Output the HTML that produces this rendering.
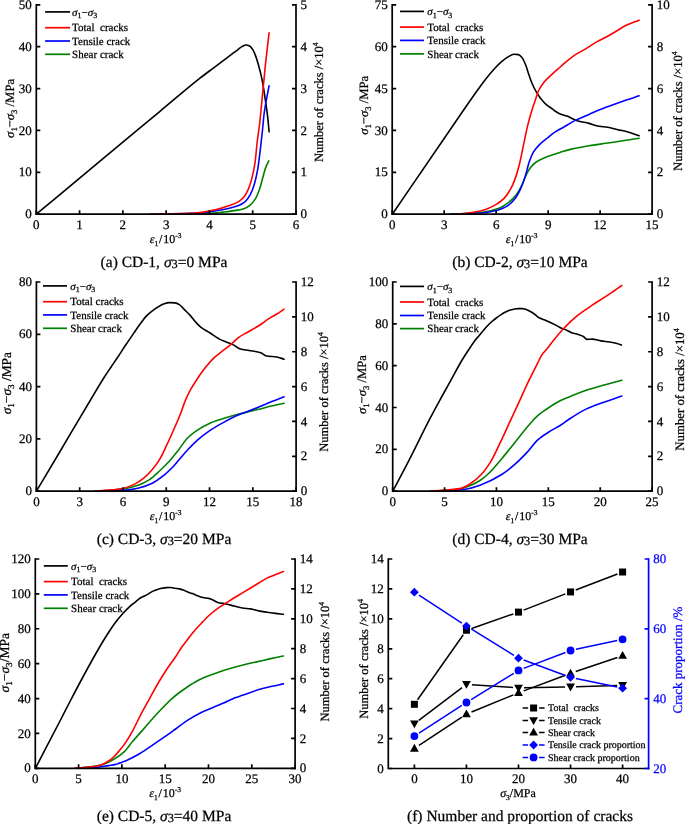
<!DOCTYPE html>
<html><head><meta charset="utf-8"><style>
html,body{margin:0;padding:0;background:#fff;}
svg{display:block;will-change:transform;}
svg{font-family:"Liberation Serif", serif;font-size:13px;}
text{stroke:#000;stroke-width:0.25px;text-rendering:geometricPrecision;}
text[fill="#0000ff"]{stroke:#0000ff;}
</style></head><body>
<svg width="685" height="824" viewBox="0 0 685 824">
<text x="31.8" y="218.3" text-anchor="end">0</text>
<text x="31.8" y="176.42" text-anchor="end">10</text>
<text x="31.8" y="134.54" text-anchor="end">20</text>
<text x="31.8" y="92.66" text-anchor="end">30</text>
<text x="31.8" y="50.78" text-anchor="end">40</text>
<text x="31.8" y="8.9" text-anchor="end">50</text>
<text x="36.3" y="228.9" text-anchor="middle">0</text>
<text x="79.58" y="228.9" text-anchor="middle">1</text>
<text x="122.87" y="228.9" text-anchor="middle">2</text>
<text x="166.15" y="228.9" text-anchor="middle">3</text>
<text x="209.43" y="228.9" text-anchor="middle">4</text>
<text x="252.72" y="228.9" text-anchor="middle">5</text>
<text x="296" y="228.9" text-anchor="middle">6</text>
<text x="300.6" y="218.3" fill="#000">0</text>
<text x="300.6" y="176.42" fill="#000">1</text>
<text x="300.6" y="134.54" fill="#000">2</text>
<text x="300.6" y="92.66" fill="#000">3</text>
<text x="300.6" y="50.78" fill="#000">4</text>
<text x="300.6" y="8.9" fill="#000">5</text>
<path d="M36.3 214.2C57.53 196.5 78.77 178.76 100 161.1C120 144.46 140 127.9 160 111.3C173.33 100.23 186.67 88.52 200 78.1C204.67 74.45 209.33 71.11 214 67.6C218.63 64.11 223.27 60.59 227.9 57.1C230.7 54.99 233.5 52.9 236.3 50.8C238.17 49.4 240.03 47.53 241.9 46.6C243.3 45.9 244.7 45 246.1 45C247.27 45 248.43 45.41 249.6 45.9C250.77 46.39 251.93 48.23 253.1 50.1C254 51.55 254.9 53.96 255.8 56.4C256.73 58.93 257.67 62.15 258.6 65.5C259.53 68.85 260.47 72.42 261.4 76.7C262.1 79.91 262.8 83.67 263.5 87.8C264.2 91.93 264.9 96.93 265.6 101.8C266.3 106.67 267 111 267.7 117.1C268.17 121.16 268.63 126.9 269.1 131.8" fill="none" stroke="#000000" stroke-width="1.6" stroke-linejoin="round" stroke-linecap="round"/>
<path d="M170 214.2C183.23 213.93 196.47 213.9 209.7 213.4C214.07 213.24 218.43 212.59 222.8 212.1C227.2 211.61 231.6 211.15 236 210.4C239.07 209.88 242.13 209.31 245.2 208.2C246.93 207.57 248.67 206.36 250.4 204.9C252.17 203.42 253.93 201.23 255.7 198.3C257 196.15 258.3 192.82 259.6 189.1C260.7 185.96 261.8 181.21 262.9 177.3C263.77 174.22 264.63 170.46 265.5 168.1C266.6 165.1 267.7 163.3 268.8 160.9" fill="none" stroke="#008000" stroke-width="1.6" stroke-linejoin="round" stroke-linecap="round"/>
<path d="M150 214.2C163.33 213.93 176.67 213.8 190 213.4C194.37 213.27 198.73 213.11 203.1 212.8C207.5 212.49 211.9 211.56 216.3 210.8C220.67 210.05 225.03 209.25 229.4 208.2C232.47 207.47 235.53 206.73 238.6 205.5C240.8 204.62 243 203.45 245.2 201.6C246.93 200.14 248.67 197.59 250.4 194.4C251.73 191.95 253.07 188.32 254.4 183.9C255.5 180.26 256.6 175.58 257.7 169.4C258.57 164.53 259.43 156.83 260.3 149.7C261.03 143.67 261.77 136.95 262.5 130C263.07 124.63 263.63 117.25 264.2 113C265.83 100.75 267.47 94.8 269.1 85.7" fill="none" stroke="#0000ff" stroke-width="1.6" stroke-linejoin="round" stroke-linecap="round"/>
<path d="M150 214.2C163.33 213.93 176.67 213.9 190 213.4C194.37 213.24 198.73 212.68 203.1 212.1C207.5 211.52 211.9 210.55 216.3 209.5C220.67 208.45 225.03 207.06 229.4 205.5C232.47 204.4 235.53 203.4 238.6 201.6C240.37 200.56 242.13 199.06 243.9 197C245.2 195.48 246.5 193.19 247.8 190.4C249.13 187.54 250.47 183.57 251.8 178.6C252.87 174.62 253.93 169.86 255 162.8C255.73 157.95 256.47 148.14 257.2 142C258 135.3 258.8 130.9 259.6 124C260.2 118.82 260.8 112.06 261.4 106C262.8 91.86 264.2 76.1 265.6 63C266.77 52.08 267.93 42.8 269.1 32.7" fill="none" stroke="#ff0000" stroke-width="1.6" stroke-linejoin="round" stroke-linecap="round"/>
<path d="M45.1 11.9h25" stroke="#000000" stroke-width="1.7"/>
<path d="M45.1 27.7h25" stroke="#ff0000" stroke-width="1.7"/>
<path d="M45.1 41h25" stroke="#0000ff" stroke-width="1.7"/>
<path d="M45.1 54.3h25" stroke="#008000" stroke-width="1.7"/>
<text x="72.1" y="15.5" font-size="11"><tspan font-style="italic">σ</tspan><tspan font-size="7.92" dy="2.5">1</tspan><tspan dy="-2.5">−</tspan><tspan font-style="italic">σ</tspan><tspan font-size="7.92" dy="2.5">3</tspan></text>
<text x="72.1" y="31.3" font-size="11">Total&#160; cracks</text>
<text x="72.1" y="44.6" font-size="11">Tensile crack</text>
<text x="72.1" y="57.9" font-size="11">Shear crack</text>
<text transform="translate(13.8 108.4) rotate(-90)" text-anchor="middle" font-size="12.7"><tspan font-style="italic">σ</tspan><tspan font-size="8.636000000000001" dy="3">1</tspan><tspan dy="-3">−</tspan><tspan font-style="italic">σ</tspan><tspan font-size="8.636000000000001" dy="3">3</tspan><tspan dy="-3"> /MPa</tspan></text>
<text transform="translate(322.8 102.2) rotate(-90)" text-anchor="middle" font-size="12.5" fill="#000">Number of cracks /×10<tspan font-size="7.75" dy="-5">4</tspan></text>
<text x="165.6" y="243" text-anchor="middle" font-size="12"><tspan font-style="italic">ε</tspan><tspan font-size="7.4399999999999995" dy="2.5">1</tspan><tspan dy="-2.5" dx="0.8">/</tspan><tspan dx="0.8">10</tspan><tspan font-size="7.4399999999999995" dy="-5">-3</tspan></text>
<text x="164" y="267" text-anchor="middle" font-size="15.5">(a) CD-1, <tspan font-style="italic">σ</tspan><tspan font-size="12.4" dy="1">3</tspan><tspan dy="-1">=0 MPa</tspan></text>
<text x="387.7" y="218.3" text-anchor="end">0</text>
<text x="387.7" y="176.42" text-anchor="end">15</text>
<text x="387.7" y="134.54" text-anchor="end">30</text>
<text x="387.7" y="92.66" text-anchor="end">45</text>
<text x="387.7" y="50.78" text-anchor="end">60</text>
<text x="387.7" y="8.9" text-anchor="end">75</text>
<text x="392.2" y="228.9" text-anchor="middle">0</text>
<text x="444.18" y="228.9" text-anchor="middle">3</text>
<text x="496.16" y="228.9" text-anchor="middle">6</text>
<text x="548.14" y="228.9" text-anchor="middle">9</text>
<text x="600.12" y="228.9" text-anchor="middle">12</text>
<text x="652.1" y="228.9" text-anchor="middle">15</text>
<text x="656.7" y="218.3" fill="#000">0</text>
<text x="656.7" y="176.42" fill="#000">2</text>
<text x="656.7" y="134.54" fill="#000">4</text>
<text x="656.7" y="92.66" fill="#000">6</text>
<text x="656.7" y="50.78" fill="#000">8</text>
<text x="656.7" y="8.9" fill="#000">10</text>
<path d="M392.3 214.2C409.87 188.53 427.43 162.69 445 137.2C456.67 120.27 468.33 102.69 480 86.7C482.33 83.5 484.67 80.31 487 77.4C489.33 74.49 491.67 71.72 494 69.2C496.33 66.68 498.67 64.21 501 62.2C503.33 60.19 505.67 58.22 508 56.9C509.97 55.79 511.93 54.2 513.9 54.2C515.43 54.2 516.97 54.35 518.5 54.6C519.67 54.79 520.83 56.13 522 57.5C523.17 58.87 524.33 61.7 525.5 64.5C526.67 67.3 527.83 71.67 529 75C530 77.86 531 80.84 532 83.2C533.33 86.35 534.67 89.09 536 91.4C537.57 94.11 539.13 96.42 540.7 98.4C542.67 100.88 544.63 103.12 546.6 104.8C548.53 106.45 550.47 107.43 552.4 108.9C553.27 109.56 554.13 110.41 555 111C556.7 112.16 558.4 113.19 560.1 113.9C562.37 114.85 564.63 115.26 566.9 116.1C570.3 117.37 573.7 119.66 577.1 120.7C581.07 121.91 585.03 122.39 589 123.4C592.37 124.26 595.73 125.79 599.1 126.3C601.93 126.73 604.77 126.79 607.6 127.2C611 127.7 614.4 128.92 617.8 129.7C621.2 130.48 624.6 131 628 131.9C631.7 132.88 635.4 134.43 639.1 135.7" fill="none" stroke="#000000" stroke-width="1.6" stroke-linejoin="round" stroke-linecap="round"/>
<path d="M450 214.2C456.67 213.93 463.33 213.79 470 213.4C474.7 213.13 479.4 212.67 484.1 212C488.8 211.33 493.5 210.18 498.2 208.5C501.47 207.34 504.73 205.21 508 202.8C510.83 200.71 513.67 198.06 516.5 194.4C518.37 191.99 520.23 188.3 522.1 184.5C523.5 181.65 524.9 177.3 526.3 174.6C527.73 171.84 529.17 169.39 530.6 167.6C532.47 165.26 534.33 163.29 536.2 162C539 160.06 541.8 158.88 544.6 157.7C547.9 156.31 551.2 155.32 554.5 154.2C556.33 153.58 558.17 152.97 560 152.4C563.43 151.34 566.87 150.21 570.3 149.4C576.53 147.93 582.77 146.84 589 145.8C594.63 144.86 600.27 144.13 605.9 143.3C611.57 142.46 617.23 141.67 622.9 140.8C628.3 139.97 633.7 139.07 639.1 138.2" fill="none" stroke="#008000" stroke-width="1.6" stroke-linejoin="round" stroke-linecap="round"/>
<path d="M450 214.2C456.67 213.97 463.33 213.79 470 213.5C474.7 213.29 479.4 213.11 484.1 212.7C488.8 212.29 493.5 211.21 498.2 209.9C501.47 208.99 504.73 207.63 508 205.6C510.37 204.13 512.73 201.63 515.1 198.6C516.97 196.21 518.83 192.71 520.7 188.7C522.1 185.69 523.5 181.79 524.9 177.5C526.33 173.11 527.77 166.08 529.2 162C530.6 158.01 532 154.42 533.4 152.1C535.27 149.01 537.13 147 539 145.1C541.83 142.22 544.67 140.31 547.5 138C549.83 136.09 552.17 133.98 554.5 132.4C557.5 130.37 560.5 128.92 563.5 127.2C567.47 124.92 571.43 122.38 575.4 120.4C579.93 118.14 584.47 116.38 589 114.4C592.93 112.68 596.87 110.88 600.8 109.3C605.33 107.48 609.87 105.85 614.4 104.2C618.37 102.76 622.33 101.35 626.3 100C630.57 98.55 634.83 97.2 639.1 95.8" fill="none" stroke="#0000ff" stroke-width="1.6" stroke-linejoin="round" stroke-linecap="round"/>
<path d="M457 214.2C461.33 213.7 465.67 213.33 470 212.7C474.7 212.02 479.4 211.21 484.1 209.9C487.87 208.85 491.63 207.02 495.4 204.9C498.2 203.32 501 201.37 503.8 198.6C506.13 196.29 508.47 192.85 510.8 188.7C512.23 186.15 513.67 182.79 515.1 178.9C516.5 175.1 517.9 170.28 519.3 164.8C520.7 159.32 522.1 151.67 523.5 145.1C524.9 138.53 526.3 131.11 527.7 125.4C529.13 119.55 530.57 114.55 532 109.9C533.17 106.11 534.33 102.94 535.5 99.5C536.47 96.65 537.43 93.03 538.4 91C540.33 86.94 542.27 84.36 544.2 82C546.93 78.66 549.67 76.44 552.4 73.9C554.4 72.04 556.4 70.37 558.4 68.6C560.67 66.6 562.93 64.51 565.2 62.6C568.03 60.22 570.87 57.71 573.7 55.8C577.1 53.51 580.5 51.94 583.9 49.9C588.43 47.18 592.97 43.9 597.5 41.4C600.3 39.86 603.1 38.71 605.9 37.2C609.3 35.37 612.7 33.18 616.1 31.2C619.5 29.22 622.9 26.92 626.3 25.3C630.57 23.27 634.83 21.9 639.1 20.2" fill="none" stroke="#ff0000" stroke-width="1.6" stroke-linejoin="round" stroke-linecap="round"/>
<path d="M400 11.4h24" stroke="#000000" stroke-width="1.7"/>
<path d="M400 27.1h24" stroke="#ff0000" stroke-width="1.7"/>
<path d="M400 40.4h24" stroke="#0000ff" stroke-width="1.7"/>
<path d="M400 53.9h24" stroke="#008000" stroke-width="1.7"/>
<text x="427.3" y="15" font-size="11"><tspan font-style="italic">σ</tspan><tspan font-size="7.92" dy="2.5">1</tspan><tspan dy="-2.5">−</tspan><tspan font-style="italic">σ</tspan><tspan font-size="7.92" dy="2.5">3</tspan></text>
<text x="427.3" y="30.7" font-size="11">Total&#160; cracks</text>
<text x="427.3" y="44" font-size="11">Tensile crack</text>
<text x="427.3" y="57.5" font-size="11">Shear crack</text>
<text transform="translate(368.2 105.3) rotate(-90)" text-anchor="middle" font-size="12.7"><tspan font-style="italic">σ</tspan><tspan font-size="8.636000000000001" dy="3">1</tspan><tspan dy="-3">−</tspan><tspan font-style="italic">σ</tspan><tspan font-size="8.636000000000001" dy="3">3</tspan><tspan dy="-3"> /MPa</tspan></text>
<text transform="translate(681.6 111.1) rotate(-90)" text-anchor="middle" font-size="12.5" fill="#000">Number of cracks /×10<tspan font-size="7.75" dy="-5">4</tspan></text>
<text x="521.6" y="243" text-anchor="middle" font-size="12"><tspan font-style="italic">ε</tspan><tspan font-size="7.4399999999999995" dy="2.5">1</tspan><tspan dy="-2.5" dx="0.8">/</tspan><tspan dx="0.8">10</tspan><tspan font-size="7.4399999999999995" dy="-5">-3</tspan></text>
<text x="520" y="267" text-anchor="middle" font-size="15.5">(b) CD-2, <tspan font-style="italic">σ</tspan><tspan font-size="12.4" dy="1">3</tspan><tspan dy="-1">=10 MPa</tspan></text>
<text x="31.9" y="495.3" text-anchor="end">0</text>
<text x="31.9" y="443" text-anchor="end">20</text>
<text x="31.9" y="390.7" text-anchor="end">40</text>
<text x="31.9" y="338.4" text-anchor="end">60</text>
<text x="31.9" y="286.1" text-anchor="end">80</text>
<text x="36.4" y="505.9" text-anchor="middle">0</text>
<text x="79.68" y="505.9" text-anchor="middle">3</text>
<text x="122.97" y="505.9" text-anchor="middle">6</text>
<text x="166.25" y="505.9" text-anchor="middle">9</text>
<text x="209.53" y="505.9" text-anchor="middle">12</text>
<text x="252.82" y="505.9" text-anchor="middle">15</text>
<text x="296.1" y="505.9" text-anchor="middle">18</text>
<text x="300.7" y="495.3" fill="#000">0</text>
<text x="300.7" y="460.43" fill="#000">2</text>
<text x="300.7" y="425.57" fill="#000">4</text>
<text x="300.7" y="390.7" fill="#000">6</text>
<text x="300.7" y="355.83" fill="#000">8</text>
<text x="300.7" y="320.97" fill="#000">10</text>
<text x="300.7" y="286.1" fill="#000">12</text>
<path d="M36.4 491.2C44.27 477.97 52.13 464.76 60 451.5C70.17 434.37 80.33 416.97 90.5 400C95.23 392.1 99.97 383.9 104.7 376.5C106.77 373.27 108.83 370.27 110.9 367.2C113.33 363.59 115.77 360.15 118.2 356.5C120.63 352.85 123.07 348.95 125.5 345.3C127.93 341.65 130.37 338.15 132.8 334.6C135.23 331.05 137.67 327.33 140.1 324C142 321.4 143.9 318.6 145.8 316.6C147.77 314.53 149.73 312.94 151.7 311.4C153.63 309.88 155.57 308.49 157.5 307.3C159.47 306.09 161.43 304.79 163.4 304.1C165.33 303.42 167.27 302.6 169.2 302.6C171.13 302.6 173.07 302.72 175 302.9C176.57 303.05 178.13 303.96 179.7 304.9C181.27 305.84 182.83 308.03 184.4 309.6C186.33 311.53 188.27 313.29 190.2 315.4C192.17 317.55 194.13 320.36 196.1 322.5C197.63 324.17 199.17 325.89 200.7 327.1C203.83 329.58 206.97 331 210.1 333C213.4 335.1 216.7 337.79 220 339.4C221.9 340.32 223.8 340.94 225.7 341.7C228.13 342.67 230.57 343.43 233 344.6C235.43 345.77 237.87 348.34 240.3 349C243.2 349.79 246.1 349.98 249 350.5C252.9 351.2 256.8 351.53 260.7 352.7C262.63 353.28 264.57 355.66 266.5 356C269.93 356.61 273.37 356.48 276.8 357C279.2 357.36 281.6 358.47 284 359.2" fill="none" stroke="#000000" stroke-width="1.6" stroke-linejoin="round" stroke-linecap="round"/>
<path d="M95 491.2C99.77 490.93 104.53 490.75 109.3 490.4C114.1 490.05 118.9 489.61 123.7 488.9C128.47 488.2 133.23 486.91 138 485.3C141.83 484 145.67 482.03 149.5 479.6C152.83 477.49 156.17 474.08 159.5 471C162.83 467.92 166.17 464.67 169.5 461C172.37 457.84 175.23 454.12 178.1 450.5C181.4 446.33 184.7 440.74 188 437.5C191.13 434.42 194.27 432.16 197.4 430.1C201.4 427.47 205.4 425.12 209.4 423.4C213.83 421.5 218.27 420.21 222.7 418.8C228.07 417.1 233.43 415.55 238.8 414.1C242.33 413.14 245.87 412.25 249.4 411.4C252.93 410.55 256.47 409.87 260 409C263.33 408.18 266.67 407.1 270 406.3C274.67 405.18 279.33 404.3 284 403.3" fill="none" stroke="#008000" stroke-width="1.6" stroke-linejoin="round" stroke-linecap="round"/>
<path d="M110 491.2C114.57 490.93 119.13 490.79 123.7 490.4C128.47 490 133.23 489.22 138 488.2C142.77 487.18 147.53 485.44 152.3 483.2C156.13 481.4 159.97 478.34 163.8 475.3C167.13 472.66 170.47 469.51 173.8 466C176.2 463.47 178.6 460.19 181 457.4C183.33 454.69 185.67 451.98 188 449.5C191.13 446.17 194.27 442.85 197.4 440.1C201.4 436.59 205.4 433.5 209.4 430.8C214.3 427.5 219.2 424.75 224.1 422.1C229 419.45 233.9 416.89 238.8 414.8C242.33 413.3 245.87 412.18 249.4 410.8C252.93 409.42 256.47 407.96 260 406.5C263.33 405.12 266.67 403.66 270 402.3C274.67 400.4 279.33 398.63 284 396.8" fill="none" stroke="#0000ff" stroke-width="1.6" stroke-linejoin="round" stroke-linecap="round"/>
<path d="M95 491.2C99.77 490.83 104.53 490.56 109.3 490.1C114.1 489.63 118.9 489.16 123.7 488.2C127.5 487.44 131.3 485.75 135.1 483.9C137.97 482.5 140.83 480.49 143.7 478.2C146.57 475.91 149.43 472.95 152.3 469.6C154.7 466.8 157.1 463.53 159.5 459.6C161.9 455.67 164.3 450.24 166.7 445.2C169.07 440.23 171.43 434.88 173.8 429.5C175.87 424.8 177.93 420.21 180 415C181.77 410.55 183.53 404.76 185.3 400.6C187.1 396.36 188.9 392.66 190.7 389.4C192.93 385.35 195.17 382.06 197.4 378.7C199.6 375.39 201.8 372.12 204 369.3C207.33 365.03 210.67 360.93 214 357.8C217.4 354.6 220.8 352.4 224.2 349.7C226.63 347.77 229.07 345.96 231.5 343.9C233.93 341.84 236.37 339.03 238.8 337.3C241.73 335.21 244.67 333.92 247.6 332.2C252.47 329.34 257.33 326.81 262.2 323.5C264.13 322.19 266.07 320.38 268 319.1C270.93 317.15 273.87 315.82 276.8 314C279.2 312.51 281.6 310.8 284 309.2" fill="none" stroke="#ff0000" stroke-width="1.6" stroke-linejoin="round" stroke-linecap="round"/>
<path d="M43 285.9h24" stroke="#000000" stroke-width="1.7"/>
<path d="M43 301.7h24" stroke="#ff0000" stroke-width="1.7"/>
<path d="M43 314.9h24" stroke="#0000ff" stroke-width="1.7"/>
<path d="M43 328.3h24" stroke="#008000" stroke-width="1.7"/>
<text x="70.3" y="289.5" font-size="11"><tspan font-style="italic">σ</tspan><tspan font-size="7.92" dy="2.5">1</tspan><tspan dy="-2.5">−</tspan><tspan font-style="italic">σ</tspan><tspan font-size="7.92" dy="2.5">3</tspan></text>
<text x="70.3" y="305.3" font-size="11">Total cracks</text>
<text x="70.3" y="318.5" font-size="11">Tensile crack</text>
<text x="70.3" y="331.9" font-size="11">Shear crack</text>
<text transform="translate(10.7 383.2) rotate(-90)" text-anchor="middle" font-size="13.4"><tspan font-style="italic">σ</tspan><tspan font-size="9.112" dy="3">1</tspan><tspan dy="-3">−</tspan><tspan font-style="italic">σ</tspan><tspan font-size="9.112" dy="3">3</tspan><tspan dy="-3"> /MPa</tspan></text>
<text transform="translate(327.9 391.9) rotate(-90)" text-anchor="middle" font-size="12.5" fill="#000">Number of cracks /×10<tspan font-size="7.75" dy="-5">4</tspan></text>
<text x="165.6" y="520" text-anchor="middle" font-size="12"><tspan font-style="italic">ε</tspan><tspan font-size="7.4399999999999995" dy="2.5">1</tspan><tspan dy="-2.5" dx="0.8">/</tspan><tspan dx="0.8">10</tspan><tspan font-size="7.4399999999999995" dy="-5">-3</tspan></text>
<text x="164" y="544" text-anchor="middle" font-size="15.5">(c) CD-3, <tspan font-style="italic">σ</tspan><tspan font-size="12.4" dy="1">3</tspan><tspan dy="-1">=20 MPa</tspan></text>
<text x="388.2" y="495.3" text-anchor="end">0</text>
<text x="388.2" y="453.46" text-anchor="end">20</text>
<text x="388.2" y="411.62" text-anchor="end">40</text>
<text x="388.2" y="369.78" text-anchor="end">60</text>
<text x="388.2" y="327.94" text-anchor="end">80</text>
<text x="388.2" y="286.1" text-anchor="end">100</text>
<text x="392.7" y="505.9" text-anchor="middle">0</text>
<text x="444.58" y="505.9" text-anchor="middle">5</text>
<text x="496.46" y="505.9" text-anchor="middle">10</text>
<text x="548.34" y="505.9" text-anchor="middle">15</text>
<text x="600.22" y="505.9" text-anchor="middle">20</text>
<text x="652.1" y="505.9" text-anchor="middle">25</text>
<text x="656.7" y="495.3" fill="#000">0</text>
<text x="656.7" y="460.43" fill="#000">2</text>
<text x="656.7" y="425.57" fill="#000">4</text>
<text x="656.7" y="390.7" fill="#000">6</text>
<text x="656.7" y="355.83" fill="#000">8</text>
<text x="656.7" y="320.97" fill="#000">10</text>
<text x="656.7" y="286.1" fill="#000">12</text>
<path d="M392.8 491.2C398.53 480.23 404.27 469.49 410 458.3C416.47 445.68 422.93 432.02 429.4 419.6C433.03 412.62 436.67 405.94 440.3 399.3C443.53 393.39 446.77 387.72 450 381.9C454.03 374.63 458.07 366.72 462.1 360C464.73 355.62 467.37 351.68 470 347.7C471.47 345.48 472.93 343.15 474.4 341.2C475.87 339.25 477.33 337.67 478.8 335.9C480.23 334.17 481.67 332.36 483.1 330.7C484.57 329 486.03 327.33 487.5 325.8C488.97 324.27 490.43 322.79 491.9 321.5C493.37 320.21 494.83 319.1 496.3 318C497.77 316.9 499.23 315.85 500.7 314.9C502.13 313.97 503.57 313.04 505 312.3C506.47 311.54 507.93 310.77 509.4 310.3C510.87 309.83 512.33 309.46 513.8 309.2C515.27 308.94 516.73 308.6 518.2 308.6C519.67 308.6 521.13 308.6 522.6 308.6C523.4 308.6 524.2 308.88 525 309.1C526.93 309.62 528.87 310.66 530.8 311.7C532.27 312.49 533.73 313.47 535.2 314.6C536.17 315.34 537.13 316.62 538.1 317.2C540.07 318.38 542.03 318.86 544 319.7C545.93 320.53 547.87 321.31 549.8 322.2C551.77 323.1 553.73 324.09 555.7 325.1C557.63 326.09 559.57 327.34 561.5 328.2C563.43 329.06 565.37 329.53 567.3 330.4C568.77 331.06 570.23 332.27 571.7 332.8C574.13 333.68 576.57 333.91 579 334.7C580.47 335.18 581.93 335.7 583.4 336.5C584.6 337.16 585.8 339.4 587 339.4C588.73 339.4 590.47 339.1 592.2 339.1C595.1 339.1 598 340.45 600.9 340.9C603.83 341.36 606.77 341.55 609.7 342C612.13 342.37 614.57 342.77 617 343.4C618.47 343.78 619.93 344.47 621.4 345" fill="none" stroke="#000000" stroke-width="1.6" stroke-linejoin="round" stroke-linecap="round"/>
<path d="M430 491.2C435 490.93 440 490.73 445 490.4C449.93 490.07 454.87 489.81 459.8 489.1C463.5 488.57 467.2 486.85 470.9 485.3C473.93 484.03 476.97 482.44 480 480.5C482.5 478.9 485 476.79 487.5 474.5C492.23 470.17 496.97 464.22 501.7 458.7C506.43 453.18 511.17 447.17 515.9 441.3C520.1 436.09 524.3 430.34 528.5 425.5C531.67 421.85 534.83 418.03 538 415.3C540.67 413 543.33 411.31 546 409.5C550.23 406.63 554.47 403.68 558.7 401.5C562.9 399.33 567.1 397.73 571.3 396C576.03 394.05 580.77 392.12 585.5 390.5C590.77 388.7 596.03 387.2 601.3 385.7C608.13 383.75 614.97 382.03 621.8 380.2" fill="none" stroke="#008000" stroke-width="1.6" stroke-linejoin="round" stroke-linecap="round"/>
<path d="M440 491.2C446.6 490.87 453.2 490.76 459.8 490.2C463.5 489.89 467.2 488.97 470.9 488.1C473.93 487.38 476.97 486.42 480 485.3C487.23 482.64 494.47 478.97 501.7 474.5C506.43 471.58 511.17 467.56 515.9 463.4C519.6 460.15 523.3 456.35 527 452.4C530.67 448.49 534.33 442.93 538 439.7C541.7 436.44 545.4 434.15 549.1 431.8C552.77 429.47 556.43 427.82 560.1 425.5C562.73 423.84 565.37 421.72 568 420C573.83 416.19 579.67 412.2 585.5 409.4C590.77 406.88 596.03 405.06 601.3 403.1C608.13 400.56 614.97 398.37 621.8 396" fill="none" stroke="#0000ff" stroke-width="1.6" stroke-linejoin="round" stroke-linecap="round"/>
<path d="M430 491.2C434.33 490.9 438.67 490.65 443 490.3C448.6 489.84 454.2 489.58 459.8 488.6C463.5 487.95 467.2 485.57 470.9 483.3C474.33 481.19 477.77 478.11 481.2 474.5C484.33 471.21 487.47 466.84 490.6 461.8C493.77 456.71 496.93 449.46 500.1 442.9C503.27 436.34 506.43 429.25 509.6 422.4C512.77 415.55 515.93 408.69 519.1 401.8C522.23 394.99 525.37 387.82 528.5 381.3C531.67 374.71 534.83 368.77 538 362.4C539.1 360.19 540.2 357.41 541.3 355.7C543.17 352.8 545.03 351.24 546.9 348.9C549.33 345.85 551.77 342.39 554.2 339.4C557.13 335.8 560.07 332.34 563 329.2C565.43 326.59 567.87 324.21 570.3 321.9C572.73 319.59 575.17 317.22 577.6 315.3C580.03 313.38 582.47 311.9 584.9 310.2C587.33 308.5 589.77 306.72 592.2 305.1C594.87 303.32 597.53 301.67 600.2 300C601.6 299.12 603 298.3 604.4 297.4C607.57 295.37 610.73 293.17 613.9 291C616.53 289.2 619.17 287.33 621.8 285.5" fill="none" stroke="#ff0000" stroke-width="1.6" stroke-linejoin="round" stroke-linecap="round"/>
<path d="M400 286.4h24" stroke="#000000" stroke-width="1.7"/>
<path d="M400 302h24" stroke="#ff0000" stroke-width="1.7"/>
<path d="M400 315.5h24" stroke="#0000ff" stroke-width="1.7"/>
<path d="M400 328.6h24" stroke="#008000" stroke-width="1.7"/>
<text x="427.3" y="290" font-size="11"><tspan font-style="italic">σ</tspan><tspan font-size="7.92" dy="2.5">1</tspan><tspan dy="-2.5">−</tspan><tspan font-style="italic">σ</tspan><tspan font-size="7.92" dy="2.5">3</tspan></text>
<text x="427.3" y="305.6" font-size="11">Total&#160; cracks</text>
<text x="427.3" y="319.1" font-size="11">Tensile crack</text>
<text x="427.3" y="332.2" font-size="11">Shear crack</text>
<text transform="translate(366.3 384.6) rotate(-90)" text-anchor="middle" font-size="12.7"><tspan font-style="italic">σ</tspan><tspan font-size="8.636000000000001" dy="3">1</tspan><tspan dy="-3">−</tspan><tspan font-style="italic">σ</tspan><tspan font-size="8.636000000000001" dy="3">3</tspan><tspan dy="-3"> /MPa</tspan></text>
<text transform="translate(683.5 389.5) rotate(-90)" text-anchor="middle" font-size="12.8" fill="#000">Number of cracks /×10<tspan font-size="7.936" dy="-5">4</tspan></text>
<text x="521.6" y="520" text-anchor="middle" font-size="12"><tspan font-style="italic">ε</tspan><tspan font-size="7.4399999999999995" dy="2.5">1</tspan><tspan dy="-2.5" dx="0.8">/</tspan><tspan dx="0.8">10</tspan><tspan font-size="7.4399999999999995" dy="-5">-3</tspan></text>
<text x="520" y="544" text-anchor="middle" font-size="15.5">(d) CD-4, <tspan font-style="italic">σ</tspan><tspan font-size="12.4" dy="1">3</tspan><tspan dy="-1">=30 MPa</tspan></text>
<text x="30.8" y="772.4" text-anchor="end">0</text>
<text x="30.8" y="737.52" text-anchor="end">20</text>
<text x="30.8" y="702.63" text-anchor="end">40</text>
<text x="30.8" y="667.75" text-anchor="end">60</text>
<text x="30.8" y="632.87" text-anchor="end">80</text>
<text x="30.8" y="597.98" text-anchor="end">100</text>
<text x="30.8" y="563.1" text-anchor="end">120</text>
<text x="35.3" y="783" text-anchor="middle">0</text>
<text x="78.6" y="783" text-anchor="middle">5</text>
<text x="121.9" y="783" text-anchor="middle">10</text>
<text x="165.2" y="783" text-anchor="middle">15</text>
<text x="208.5" y="783" text-anchor="middle">20</text>
<text x="251.8" y="783" text-anchor="middle">25</text>
<text x="295.1" y="783" text-anchor="middle">30</text>
<text x="299.7" y="772.4" fill="#000">0</text>
<text x="299.7" y="742.5" fill="#000">2</text>
<text x="299.7" y="712.6" fill="#000">4</text>
<text x="299.7" y="682.7" fill="#000">6</text>
<text x="299.7" y="652.8" fill="#000">8</text>
<text x="299.7" y="622.9" fill="#000">10</text>
<text x="299.7" y="593" fill="#000">12</text>
<text x="299.7" y="563.1" fill="#000">14</text>
<path d="M35.4 768.3C43.77 752.2 52.13 736.21 60.5 720C63.67 713.86 66.83 707.58 70 701.5C74.67 692.53 79.33 683.61 84 675C88.63 666.45 93.27 658.05 97.9 650C99.87 646.58 101.83 643.2 103.8 640C105.93 636.53 108.07 633.18 110.2 630C112.3 626.87 114.4 623.7 116.5 621C118.93 617.87 121.37 615.14 123.8 612.5C125.23 610.95 126.67 609.46 128.1 608.1C129.57 606.71 131.03 605.43 132.5 604.2C133.97 602.97 135.43 601.85 136.9 600.7C137.93 599.89 138.97 598.95 140 598.3C141.47 597.37 142.93 596.78 144.4 596C145.87 595.22 147.33 594.43 148.8 593.6C150.23 592.79 151.67 591.77 153.1 591.1C154.57 590.42 156.03 589.85 157.5 589.4C158.97 588.95 160.43 588.59 161.9 588.3C163.37 588.01 164.83 587.66 166.3 587.6C167.77 587.54 169.23 587.5 170.7 587.5C172.13 587.5 173.57 588.07 175 588.3C176.47 588.53 177.93 588.62 179.4 588.9C180.87 589.18 182.33 589.76 183.8 590.3C185.27 590.84 186.73 591.66 188.2 592.2C189.67 592.74 191.13 593.06 192.6 593.6C194.03 594.13 195.47 594.9 196.9 595.5C198.4 596.13 199.9 596.94 201.4 597.3C204.13 597.95 206.87 597.95 209.6 598.6C212.33 599.25 215.07 601.65 217.8 602.4C220.53 603.15 223.27 603.41 226 604C228.73 604.59 231.47 605.33 234.2 606C236.93 606.67 239.67 607.59 242.4 608C245.13 608.41 247.87 608.49 250.6 608.9C253.33 609.31 256.07 610.37 258.8 610.9C261.53 611.43 264.27 611.78 267 612.2C269.73 612.62 272.47 613.08 275.2 613.4C277.93 613.72 280.67 613.93 283.4 614.2" fill="none" stroke="#000000" stroke-width="1.6" stroke-linejoin="round" stroke-linecap="round"/>
<path d="M75 768.3C77.8 768.07 80.6 767.89 83.4 767.6C89.7 766.94 96 766.22 102.3 764.7C106.53 763.68 110.77 761 115 758.5C117.93 756.77 120.87 754.76 123.8 752.1C126.7 749.47 129.6 745 132.5 741.6C136.6 736.79 140.7 732.25 144.8 727.6C149.47 722.31 154.13 716.75 158.8 711.8C163.47 706.85 168.13 701.81 172.8 697.8C176.9 694.28 181 691.36 185.1 688.5C188.33 686.25 191.57 684.02 194.8 682.2C198.1 680.35 201.4 678.72 204.7 677.3C209.07 675.43 213.43 673.89 217.8 672.4C222.17 670.91 226.53 669.58 230.9 668.3C235.27 667.02 239.63 665.78 244 664.7C248.93 663.48 253.87 662.51 258.8 661.4C263.17 660.41 267.53 659.35 271.9 658.4C275.73 657.56 279.57 656.8 283.4 656" fill="none" stroke="#008000" stroke-width="1.6" stroke-linejoin="round" stroke-linecap="round"/>
<path d="M90 768.3C92 768.07 94 767.86 96 767.6C100.2 767.05 104.4 766.26 108.6 765.6C110.73 765.26 112.87 765.05 115 764.6C118.5 763.87 122 762.34 125.5 760.9C129.6 759.22 133.7 757.1 137.8 754.8C141.87 752.52 145.93 749.61 150 746.9C154.7 743.77 159.4 740.49 164.1 737.2C168.17 734.35 172.23 731.4 176.3 728.5C180.4 725.57 184.5 722.31 188.6 719.7C192.67 717.11 196.73 714.7 200.8 712.7C204.9 710.68 209 709.12 213.1 707.4C216.6 705.93 220.1 704.62 223.6 703.1C227.4 701.45 231.2 699.27 235 697.8C237.47 696.85 239.93 696.14 242.4 695.3C247.87 693.43 253.33 691.19 258.8 689.6C263.17 688.33 267.53 687.29 271.9 686.3C275.73 685.43 279.57 684.7 283.4 683.9" fill="none" stroke="#0000ff" stroke-width="1.6" stroke-linejoin="round" stroke-linecap="round"/>
<path d="M75 768.3C77.8 768.07 80.6 767.88 83.4 767.6C88.67 767.07 93.93 766.65 99.2 765.5C102.87 764.7 106.53 762.47 110.2 760C111.8 758.92 113.4 757.23 115 755.6C116.03 754.55 117.07 753.31 118.1 752.1C120 749.87 121.9 747.72 123.8 745.1C126.7 741.1 129.6 736.26 132.5 731.1C135.43 725.88 138.37 719.17 141.3 713.6C144.2 708.09 147.1 703.04 150 697.8C152.93 692.5 155.87 686.95 158.8 682C161.73 677.05 164.67 672.37 167.6 668C170.5 663.68 173.4 660.15 176.3 655.8C178.03 653.2 179.77 650.01 181.5 647.5C183.27 644.95 185.03 642.81 186.8 640.5C188.93 637.71 191.07 634.75 193.2 632.2C195.93 628.94 198.67 626.06 201.4 623.2C204.13 620.34 206.87 617.44 209.6 615C212.33 612.56 215.07 610.34 217.8 608.4C220.53 606.46 223.27 604.97 226 603.2C228.73 601.43 231.47 599.51 234.2 597.8C236.93 596.09 239.67 594.53 242.4 592.9C245.13 591.27 247.87 589.65 250.6 588C253.33 586.35 256.07 584.65 258.8 583C261.53 581.35 264.27 579.41 267 578.1C269.73 576.79 272.47 575.88 275.2 574.8C277.93 573.72 280.67 572.67 283.4 571.6" fill="none" stroke="#ff0000" stroke-width="1.6" stroke-linejoin="round" stroke-linecap="round"/>
<path d="M43.8 565.9h24" stroke="#000000" stroke-width="1.7"/>
<path d="M43.8 581.6h24" stroke="#ff0000" stroke-width="1.7"/>
<path d="M43.8 594.9h24" stroke="#0000ff" stroke-width="1.7"/>
<path d="M43.8 608.3h24" stroke="#008000" stroke-width="1.7"/>
<text x="71.1" y="569.5" font-size="11"><tspan font-style="italic">σ</tspan><tspan font-size="7.92" dy="2.5">1</tspan><tspan dy="-2.5">−</tspan><tspan font-style="italic">σ</tspan><tspan font-size="7.92" dy="2.5">3</tspan></text>
<text x="71.1" y="585.2" font-size="11">Total&#160; cracks</text>
<text x="71.1" y="598.5" font-size="11">Tensile crack</text>
<text x="71.1" y="611.9" font-size="11">Shear crack</text>
<text transform="translate(8.9 662.8) rotate(-90)" text-anchor="middle" font-size="13.5"><tspan font-style="italic">σ</tspan><tspan font-size="9.180000000000001" dy="3">1</tspan><tspan dy="-3">−</tspan><tspan font-style="italic">σ</tspan><tspan font-size="9.180000000000001" dy="3">3</tspan><tspan dy="-3">/MPa</tspan></text>
<text transform="translate(328.8 661.7) rotate(-90)" text-anchor="middle" font-size="12.5" fill="#000">Number of cracks /×10<tspan font-size="7.75" dy="-5">4</tspan></text>
<text x="165.1" y="797" text-anchor="middle" font-size="12"><tspan font-style="italic">ε</tspan><tspan font-size="7.4399999999999995" dy="2.5">1</tspan><tspan dy="-2.5" dx="0.8">/</tspan><tspan dx="0.8">10</tspan><tspan font-size="7.4399999999999995" dy="-5">-3</tspan></text>
<text x="164" y="821" text-anchor="middle" font-size="15.5">(e) CD-5, <tspan font-style="italic">σ</tspan><tspan font-size="12.4" dy="1">3</tspan><tspan dy="-1">=40 MPa</tspan></text>
<text x="383.8" y="772.6" text-anchor="end">0</text>
<text x="383.8" y="742.67" text-anchor="end">2</text>
<text x="383.8" y="712.74" text-anchor="end">4</text>
<text x="383.8" y="682.81" text-anchor="end">6</text>
<text x="383.8" y="652.89" text-anchor="end">8</text>
<text x="383.8" y="622.96" text-anchor="end">10</text>
<text x="383.8" y="593.03" text-anchor="end">12</text>
<text x="383.8" y="563.1" text-anchor="end">14</text>
<text x="414.4" y="783.2" text-anchor="middle">0</text>
<text x="466.45" y="783.2" text-anchor="middle">10</text>
<text x="518.5" y="783.2" text-anchor="middle">20</text>
<text x="570.55" y="783.2" text-anchor="middle">30</text>
<text x="622.6" y="783.2" text-anchor="middle">40</text>
<text x="653.2" y="772.6" fill="#0000ff">20</text>
<text x="653.2" y="702.77" fill="#0000ff">40</text>
<text x="653.2" y="632.93" fill="#0000ff">60</text>
<text x="653.2" y="563.1" fill="#0000ff">80</text>
<path d="M417.56 699.8L463.29 634.73" stroke="#000000" stroke-width="1.5"/>
<path d="M471.64 628.42L513.3 613.93" stroke="#000000" stroke-width="1.5"/>
<path d="M523.63 610.13L565.42 593.91" stroke="#000000" stroke-width="1.5"/>
<path d="M575.69 589.96L617.46 573.98" stroke="#000000" stroke-width="1.5"/>
<rect x="410.9" y="700.8" width="7" height="7" fill="#000000"/>
<rect x="462.95" y="626.73" width="7" height="7" fill="#000000"/>
<rect x="515" y="608.62" width="7" height="7" fill="#000000"/>
<rect x="567.05" y="588.42" width="7" height="7" fill="#000000"/>
<rect x="619.1" y="568.52" width="7" height="7" fill="#000000"/>
<path d="M418.78 720.43L462.07 687.58" stroke="#000000" stroke-width="1.5"/>
<path d="M471.94 684.63L513.01 687.46" stroke="#000000" stroke-width="1.5"/>
<path d="M524 687.73L565.05 686.91" stroke="#000000" stroke-width="1.5"/>
<path d="M576.05 686.64L617.1 685.46" stroke="#000000" stroke-width="1.5"/>
<path d="M414.4 728.36L418.8 720.56H410Z" fill="#000000"/>
<path d="M466.45 688.85L470.85 681.05H462.05Z" fill="#000000"/>
<path d="M518.5 692.44L522.9 684.64H514.1Z" fill="#000000"/>
<path d="M570.55 691.39L574.95 683.59H566.15Z" fill="#000000"/>
<path d="M622.6 689.9L627 682.1H618.2Z" fill="#000000"/>
<path d="M418.99 745.41L461.86 717.06" stroke="#000000" stroke-width="1.5"/>
<path d="M471.54 711.95L513.41 694.86" stroke="#000000" stroke-width="1.5"/>
<path d="M523.65 690.86L565.4 675.25" stroke="#000000" stroke-width="1.5"/>
<path d="M575.76 671.56L617.39 657.44" stroke="#000000" stroke-width="1.5"/>
<path d="M414.4 743.85L418.8 751.65H410Z" fill="#000000"/>
<path d="M466.45 709.43L470.85 717.23H462.05Z" fill="#000000"/>
<path d="M518.5 688.18L522.9 695.98H514.1Z" fill="#000000"/>
<path d="M570.55 668.73L574.95 676.53H566.15Z" fill="#000000"/>
<path d="M622.6 651.07L627 658.87H618.2Z" fill="#000000"/>
<path d="M419.01 595.17L461.84 623.04" stroke="#0000ff" stroke-width="1.5"/>
<path d="M471.13 628.93L513.82 655.27" stroke="#0000ff" stroke-width="1.5"/>
<path d="M523.66 660.07L565.39 675.46" stroke="#0000ff" stroke-width="1.5"/>
<path d="M575.93 678.49L617.22 687.07" stroke="#0000ff" stroke-width="1.5"/>
<path d="M414.4 587.77L418.8 592.17L414.4 596.57L410 592.17Z" fill="#0000ff"/>
<path d="M466.45 621.64L470.85 626.04L466.45 630.44L462.05 626.04Z" fill="#0000ff"/>
<path d="M518.5 653.76L522.9 658.16L518.5 662.56L514.1 658.16Z" fill="#0000ff"/>
<path d="M570.55 672.97L574.95 677.37L570.55 681.77L566.15 677.37Z" fill="#0000ff"/>
<path d="M622.6 683.79L627 688.19L622.6 692.59L618.2 688.19Z" fill="#0000ff"/>
<path d="M419.02 733.05L461.82 705.49" stroke="#0000ff" stroke-width="1.5"/>
<path d="M471.13 699.62L513.82 673.27" stroke="#0000ff" stroke-width="1.5"/>
<path d="M523.64 668.42L565.41 652.45" stroke="#0000ff" stroke-width="1.5"/>
<path d="M575.93 649.33L617.22 640.46" stroke="#0000ff" stroke-width="1.5"/>
<circle cx="414.4" cy="736.03" r="3.9" fill="#0000ff"/>
<circle cx="466.45" cy="702.51" r="3.9" fill="#0000ff"/>
<circle cx="518.5" cy="670.38" r="3.9" fill="#0000ff"/>
<circle cx="570.55" cy="650.48" r="3.9" fill="#0000ff"/>
<circle cx="622.6" cy="639.31" r="3.9" fill="#0000ff"/>
<path d="M522.6 708H528.1M539.1 708H544.6" stroke="#000000" stroke-width="1.5"/>
<rect x="530.1" y="704.5" width="7" height="7" fill="#000000"/>
<text x="548" y="711.4" font-size="10">Total&#160; cracks</text>
<path d="M522.6 720.4H528.1M539.1 720.4H544.6" stroke="#000000" stroke-width="1.5"/>
<path d="M533.6 725L538 717.2H529.2Z" fill="#000000"/>
<text x="548" y="723.8" font-size="10">Tensile crack</text>
<path d="M522.6 732.4H528.1M539.1 732.4H544.6" stroke="#000000" stroke-width="1.5"/>
<path d="M533.6 727.8L538 735.6H529.2Z" fill="#000000"/>
<text x="548" y="735.8" font-size="10">Shear crack</text>
<path d="M522.6 745H528.1M539.1 745H544.6" stroke="#0000ff" stroke-width="1.5"/>
<path d="M533.6 740.6L538 745L533.6 749.4L529.2 745Z" fill="#0000ff"/>
<text x="548" y="748.4" font-size="10">Tensile crack proportion</text>
<path d="M522.6 757.4H528.1M539.1 757.4H544.6" stroke="#0000ff" stroke-width="1.5"/>
<circle cx="533.6" cy="757.4" r="3.9" fill="#0000ff"/>
<text x="548" y="760.8" font-size="10">Shear crack proportion</text>
<text transform="translate(367.5 658.9) rotate(-90)" text-anchor="middle" font-size="12.5">Number of cracks /×10<tspan font-size="8" dy="-5">4</tspan></text>
<text transform="translate(681.8 660.1) rotate(-90)" text-anchor="middle" font-size="13" fill="#0000ff">Crack proportion /%</text>
<text x="518" y="797" text-anchor="middle" font-size="12"><tspan font-style="italic">σ</tspan><tspan font-size="7.5" dy="2.5">3</tspan><tspan dy="-2.5">/MPa</tspan></text>
<text x="520" y="821" text-anchor="middle" font-size="15.5">(f) Number and proportion of cracks</text>
<path d="M36.3 4.8V214.2H296" fill="none" stroke="#000" stroke-width="1.7" stroke-linecap="square"/>
<path d="M296 4.8V214.2" fill="none" stroke="#000" stroke-width="1.7" stroke-linecap="square"/>
<path d="M36.3 214.2h4.0M36.3 172.32h4.0M36.3 130.44h4.0M36.3 88.56h4.0M36.3 46.68h4.0M36.3 4.8h4.0M36.3 214.2v-4.0M79.58 214.2v-4.0M122.87 214.2v-4.0M166.15 214.2v-4.0M209.43 214.2v-4.0M252.72 214.2v-4.0M296 214.2v-4.0" stroke="#000" stroke-width="1.7"/>
<path d="M296 214.2h-4.0M296 172.32h-4.0M296 130.44h-4.0M296 88.56h-4.0M296 46.68h-4.0M296 4.8h-4.0" stroke="#000" stroke-width="1.7"/>
<path d="M392.2 4.8V214.2H652.1" fill="none" stroke="#000" stroke-width="1.7" stroke-linecap="square"/>
<path d="M652.1 4.8V214.2" fill="none" stroke="#000" stroke-width="1.7" stroke-linecap="square"/>
<path d="M392.2 214.2h4.0M392.2 172.32h4.0M392.2 130.44h4.0M392.2 88.56h4.0M392.2 46.68h4.0M392.2 4.8h4.0M392.2 214.2v-4.0M444.18 214.2v-4.0M496.16 214.2v-4.0M548.14 214.2v-4.0M600.12 214.2v-4.0M652.1 214.2v-4.0" stroke="#000" stroke-width="1.7"/>
<path d="M652.1 214.2h-4.0M652.1 172.32h-4.0M652.1 130.44h-4.0M652.1 88.56h-4.0M652.1 46.68h-4.0M652.1 4.8h-4.0" stroke="#000" stroke-width="1.7"/>
<path d="M36.4 282V491.2H296.1" fill="none" stroke="#000" stroke-width="1.7" stroke-linecap="square"/>
<path d="M296.1 282V491.2" fill="none" stroke="#000" stroke-width="1.7" stroke-linecap="square"/>
<path d="M36.4 491.2h4.0M36.4 438.9h4.0M36.4 386.6h4.0M36.4 334.3h4.0M36.4 282h4.0M36.4 491.2v-4.0M79.68 491.2v-4.0M122.97 491.2v-4.0M166.25 491.2v-4.0M209.53 491.2v-4.0M252.82 491.2v-4.0M296.1 491.2v-4.0" stroke="#000" stroke-width="1.7"/>
<path d="M296.1 491.2h-4.0M296.1 456.33h-4.0M296.1 421.47h-4.0M296.1 386.6h-4.0M296.1 351.73h-4.0M296.1 316.87h-4.0M296.1 282h-4.0" stroke="#000" stroke-width="1.7"/>
<path d="M392.7 282V491.2H652.1" fill="none" stroke="#000" stroke-width="1.7" stroke-linecap="square"/>
<path d="M652.1 282V491.2" fill="none" stroke="#000" stroke-width="1.7" stroke-linecap="square"/>
<path d="M392.7 491.2h4.0M392.7 449.36h4.0M392.7 407.52h4.0M392.7 365.68h4.0M392.7 323.84h4.0M392.7 282h4.0M392.7 491.2v-4.0M444.58 491.2v-4.0M496.46 491.2v-4.0M548.34 491.2v-4.0M600.22 491.2v-4.0M652.1 491.2v-4.0" stroke="#000" stroke-width="1.7"/>
<path d="M652.1 491.2h-4.0M652.1 456.33h-4.0M652.1 421.47h-4.0M652.1 386.6h-4.0M652.1 351.73h-4.0M652.1 316.87h-4.0M652.1 282h-4.0" stroke="#000" stroke-width="1.7"/>
<path d="M35.3 559V768.3H295.1" fill="none" stroke="#000" stroke-width="1.7" stroke-linecap="square"/>
<path d="M295.1 559V768.3" fill="none" stroke="#000" stroke-width="1.7" stroke-linecap="square"/>
<path d="M35.3 768.3h4.0M35.3 733.42h4.0M35.3 698.53h4.0M35.3 663.65h4.0M35.3 628.77h4.0M35.3 593.88h4.0M35.3 559h4.0M35.3 768.3v-4.0M78.6 768.3v-4.0M121.9 768.3v-4.0M165.2 768.3v-4.0M208.5 768.3v-4.0M251.8 768.3v-4.0M295.1 768.3v-4.0" stroke="#000" stroke-width="1.7"/>
<path d="M295.1 768.3h-4.0M295.1 738.4h-4.0M295.1 708.5h-4.0M295.1 678.6h-4.0M295.1 648.7h-4.0M295.1 618.8h-4.0M295.1 588.9h-4.0M295.1 559h-4.0" stroke="#000" stroke-width="1.7"/>
<path d="M388.3 559V768.5H648.6" fill="none" stroke="#000" stroke-width="1.7" stroke-linecap="square"/>
<path d="M648.6 559V768.5" fill="none" stroke="#0000ff" stroke-width="1.7" stroke-linecap="square"/>
<path d="M388.3 768.5h4.0M388.3 738.57h4.0M388.3 708.64h4.0M388.3 678.71h4.0M388.3 648.79h4.0M388.3 618.86h4.0M388.3 588.93h4.0M388.3 559h4.0M414.4 768.5v-4.0M466.45 768.5v-4.0M518.5 768.5v-4.0M570.55 768.5v-4.0M622.6 768.5v-4.0" stroke="#000" stroke-width="1.7"/>
<path d="M648.6 768.5h-4.0M648.6 698.67h-4.0M648.6 628.83h-4.0M648.6 559h-4.0" stroke="#0000ff" stroke-width="1.7"/>
</svg>
</body></html>
